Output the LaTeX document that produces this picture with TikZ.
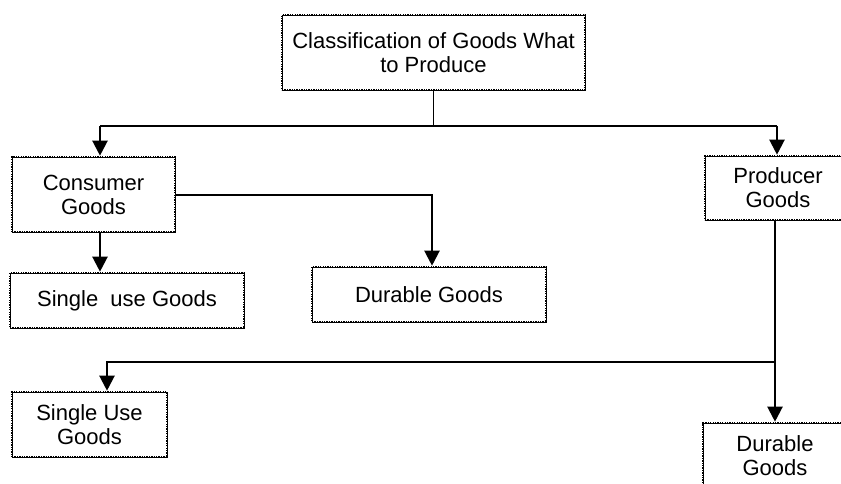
\documentclass[tikz,border=0pt]{standalone}
\usepackage{fontspec}
\setmainfont{Liberation Sans}
\usetikzlibrary{arrows.meta}
\begin{document}
\begin{tikzpicture}[x=1pt,y=-1pt,
  box/.style={draw, line width=2.6pt, dash pattern=on 1.3pt off 1.1pt,
    postaction={draw, solid, line width=0.8pt}, align=center, inner sep=0pt,
    font=\fontsize{22}{24}\selectfont},
  conn/.style={line width=2.2pt},
  arr/.style={conn, -{Triangle[width=15pt,length=15pt]}}]
\useasboundingbox (0,0) rectangle (841,484);
\node[box, minimum width=303pt, minimum height=75pt] (top) at (433.5,52.5) {Classification of Goods What\\to Produce};
\node[box, minimum width=163pt, minimum height=75pt] (cons) at (93.5,194.5) {Consumer\\Goods};
\node[box, minimum width=234pt, minimum height=55pt] (sug) at (127,300.5) {Single\ \ use Goods};
\node[box, minimum width=234pt, minimum height=55pt] (dg) at (429,294.5) {Durable Goods};
\node[box, minimum width=146pt, minimum height=64pt] (prod) at (778,188) {Producer\\Goods};
\node[box, minimum width=155pt, minimum height=65pt] (sug2) at (89.5,424.5) {Single Use\\Goods};
\node[box, minimum width=144pt, minimum height=66pt] (dg2) at (775,456) {Durable\\Goods};
\coordinate (j1) at (433.5,126);
\coordinate (jl) at (100,126);
\coordinate (jr) at (777,126);
\coordinate (c1) at (432,195);
\coordinate (p1) at (775,362);
\coordinate (p2) at (107,362);
\draw[line width=1.3pt] (top.south) -- (j1);
\draw[conn, line width=2.6pt] (jl) -- (jr);
\draw[arr] (jl) -- (jl |- cons.north);
\draw[arr] (jr) -- (jr |- prod.north);
\draw[arr] (cons.south -| jl) -- (sug.north -| jl);
\draw[arr] (cons.east |- c1) -- (c1) -- (c1 |- dg.north);
\draw[arr] (prod.south -| p1) -- (p1 |- dg2.north);
\draw[arr] (p1) -- (p2) -- (p2 |- sug2.north);
\end{tikzpicture}
\end{document}
